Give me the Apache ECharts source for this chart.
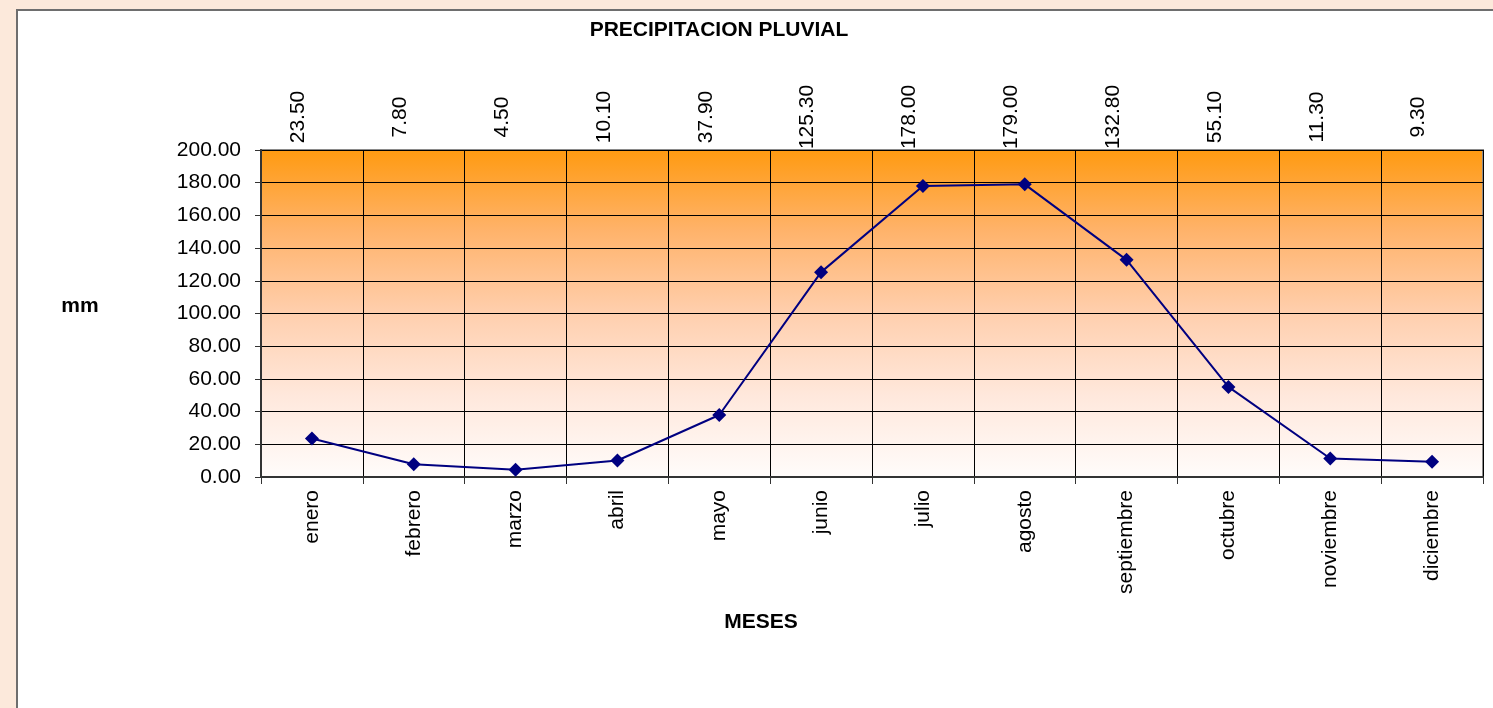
<!DOCTYPE html>
<html>
<head>
<meta charset="utf-8">
<script src="https://cdn.jsdelivr.net/npm/echarts@6/dist/echarts.min.js"></script>
<style>
	body { margin: 0; background: #fce9db; overflow: hidden; }
	#panel { position: absolute; left: 16px; top: 9px; width: 1600px; height: 800px; background: #fff; border-left: 2px solid #6e6e6e; border-top: 2px solid #6e6e6e; }
	#chart { position: absolute; left: 0; top: 0; width: 1493px; height: 708px; }
</style>
</head>
<body>
<div id="panel"></div>
<div id="chart"></div>
<script>
var meses = ['enero', 'febrero', 'marzo', 'abril', 'mayo', 'junio',
			'julio', 'agosto', 'septiembre', 'octubre', 'noviembre', 'diciembre'];
var lluvia = [23.5, 7.8, 4.5, 10.1, 37.9, 125.3, 178.0, 179.0, 132.8, 55.1, 11.3, 9.3];
var yTicks = { min: 0, max: 200, step: 20 };

var font = 'Liberation Sans, Arial, sans-serif';
var fs = 21;

var chart = echarts.init(document.getElementById('chart'));

var option = {
	backgroundColor: 'transparent',
	animation: false,
	textStyle: { fontFamily: font },
	title: [{
		text: 'PRECIPITACION PLUVIAL',
		left: 714, top: 15,
		textAlign: 'center',
		textStyle: { fontSize: fs, fontWeight: 'bold', color: '#000', fontFamily: font }
	}, {
		text: 'mm',
		left: 75, top: 291,
		textAlign: 'center',
		textStyle: { fontSize: fs, fontWeight: 'bold', color: '#000', fontFamily: font }
	}, {
		text: 'MESES',
		left: 756, top: 607,
		textAlign: 'center',
		textStyle: { fontSize: fs, fontWeight: 'bold', color: '#000', fontFamily: font }
	}],
	grid: {
		left: 261, top: 150, width: 1222, height: 327,
		show: true,
		borderColor: '#8a8a8a',
		borderWidth: 2,
		backgroundColor: new echarts.graphic.LinearGradient(0, 0, 0, 1, [
			{ offset: 0, color: '#ff9a10' },
			{ offset: 0.25, color: '#ffb36b' },
			{ offset: 0.5, color: '#ffcfae' },
			{ offset: 0.75, color: '#ffe8dc' },
			{ offset: 1, color: '#fffcfb' }
		])
	},
	xAxis: [{
		type: 'category',
		data: meses,
		position: 'bottom',
		boundaryGap: true,
		axisLine: { lineStyle: { color: '#333', width: 2 } },
		axisTick: { show: true, length: 7, interval: 0, lineStyle: { color: '#333' } },
		splitLine: { show: true, interval: 0, lineStyle: { color: '#000', width: 1 } },
		axisLabel: {
			interval: 0, rotate: 90, margin: 13,
			fontSize: fs, color: '#000', fontFamily: font
		}
	}, {
		type: 'category',
		data: lluvia.map(function (v) { return v.toFixed(2); }),
		position: 'top',
		boundaryGap: true,
		axisLine: { show: false },
		axisTick: { show: false },
		splitLine: { show: false },
		axisLabel: {
			interval: 0, rotate: -90, margin: 33,
			align: 'center', verticalAlign: 'bottom',
			padding: [0, 0, 3, 0],
			fontSize: fs, color: '#000', fontFamily: font
		}
	}],
	yAxis: {
		type: 'value',
		min: yTicks.min, max: yTicks.max, interval: yTicks.step,
		axisLine: { show: true, lineStyle: { color: '#333', width: 2 } },
		axisTick: { show: true, length: 6, lineStyle: { color: '#333' } },
		splitLine: { show: true, lineStyle: { color: '#000', width: 1 } },
		axisLabel: {
			margin: 20, fontSize: fs, color: '#000', fontFamily: font,
			formatter: function (v) { return v.toFixed(2); }
		}
	},
	series: [{
		type: 'line',
		data: lluvia,
		xAxisIndex: 0,
		symbol: 'diamond',
		symbolSize: 14,
		lineStyle: { color: '#000080', width: 2 },
		itemStyle: { color: '#000080' }
	}]
};

chart.setOption(option);
</script>
</body>
</html>
